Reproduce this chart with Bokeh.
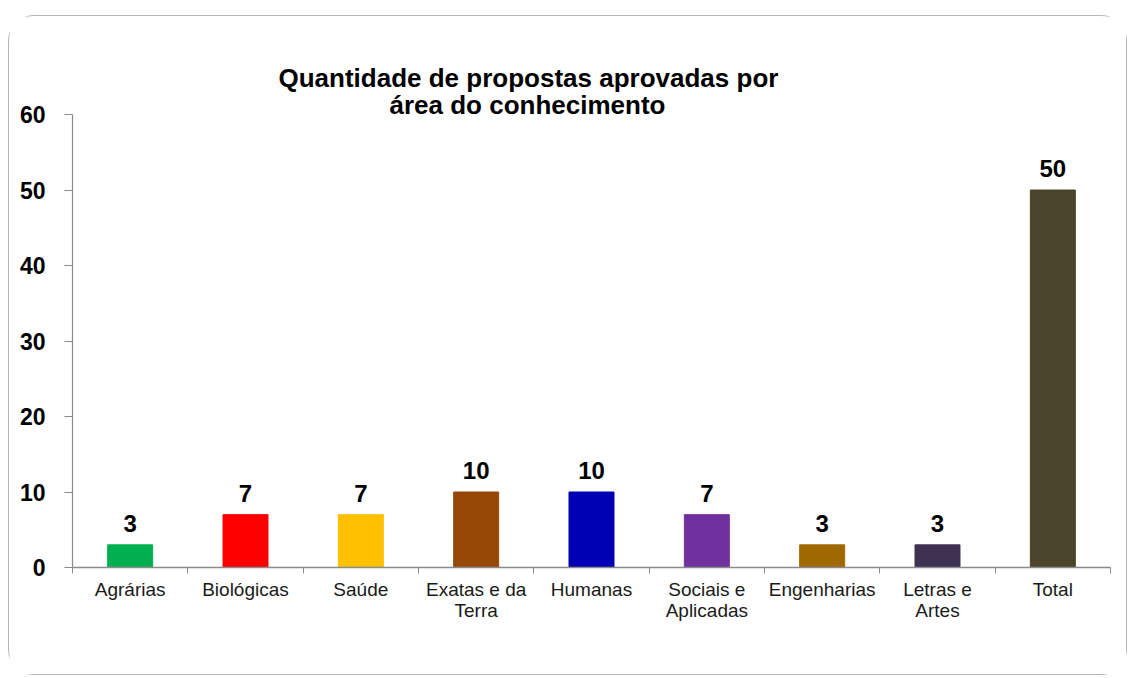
from bokeh.plotting import figure
from bokeh.models import Range1d, FixedTicker, Title, ColumnDataSource
from bokeh.core.properties import value
from bokeh.embed import file_html
from bokeh.resources import INLINE

categories = ["Agrárias", "Biológicas", "Saúde", "Exatas e da\nTerra", "Humanas",
              "Sociais e\nAplicadas", "Engenharias", "Letras e\nArtes", "Total"]
counts = [3, 7, 7, 10, 10, 7, 3, 3, 50]
colors = ["#00B050", "#FF0000", "#FFC000", "#974706", "#0000B4",
          "#7030A0", "#A06800", "#3F3151", "#4A452A"]
y_ticks = [0, 10, 20, 30, 40, 50, 60]
title_line1 = "Quantidade de propostas aprovadas por"
title_line2 = "área do conhecimento"

FONT = "Liberation Sans"
AXIS_COLOR = "#8a8a8a"

centers = [i + 0.5 for i in range(len(categories))]
bounds = [float(i) for i in range(len(categories) + 1)]

src = ColumnDataSource(dict(x=centers, top=counts, color=colors,
                            label=[str(c) for c in counts]))

p = figure(width=1119, height=660, output_backend="svg", toolbar_location=None,
           x_range=Range1d(0, len(categories)), y_range=Range1d(0, 60),
           min_border_left=63, min_border_right=18, min_border_top=98,
           min_border_bottom=109,
           styles={"margin-left": "8px", "margin-top": "15px",
                   "border": "1px solid #b5b5b5", "border-radius": "26px"})
p.outline_line_color = None
p.xgrid.visible = False
p.ygrid.visible = False
p.background_fill_color = "white"
p.border_fill_color = "white"

p.vbar(x="x", top="top", width=0.39, bottom=0, color="color", source=src)
p.text(x="x", y="top", text="label", source=src, text_align="center",
       text_baseline="bottom", y_offset=-13, text_font=value(FONT),
       text_font_style="bold", text_font_size="24px", text_color="black")

# x axis
xa = p.xaxis[0]
xa.ticker = FixedTicker(ticks=centers, minor_ticks=bounds)
xa.major_label_overrides = {c: lab for c, lab in zip(centers, categories)}
xa.major_tick_out = 0
xa.major_tick_in = 0
xa.minor_tick_out = 6
xa.minor_tick_in = 0
xa.minor_tick_line_color = AXIS_COLOR
xa.axis_line_color = AXIS_COLOR
xa.axis_line_width = 1.5
xa.major_label_text_font = FONT
xa.major_label_text_font_size = "19px"
xa.major_label_text_color = "#1a1a1a"
xa.major_label_text_line_height = 1.0
xa.major_label_standoff = 5
xa.major_label_orientation = "horizontal"

# y axis
ya = p.yaxis[0]
ya.ticker = FixedTicker(ticks=y_ticks)
ya.major_tick_out = 8
ya.major_tick_in = 0
ya.minor_tick_out = 0
ya.minor_tick_in = 0
ya.major_tick_line_color = AXIS_COLOR
ya.axis_line_color = AXIS_COLOR
ya.axis_line_width = 1.2
ya.major_label_text_font = FONT
ya.major_label_text_font_style = "bold"
ya.major_label_text_font_size = "23px"
ya.major_label_text_color = "black"
ya.major_label_standoff = 19

# title, two centred lines (left-aligned titles shifted to a common centre)
t2 = Title(text=title_line2, align="left", offset=317, text_font=FONT,
           text_font_style="bold", text_font_size="26px",
           text_color="black", standoff=-10)
t1 = Title(text=title_line1, align="left", offset=206, text_font=FONT,
           text_font_style="bold", text_font_size="26px",
           text_color="black", standoff=0)
p.add_layout(t2, "above")
p.add_layout(t1, "above")

open("out.html", "w").write(file_html(p, INLINE))
